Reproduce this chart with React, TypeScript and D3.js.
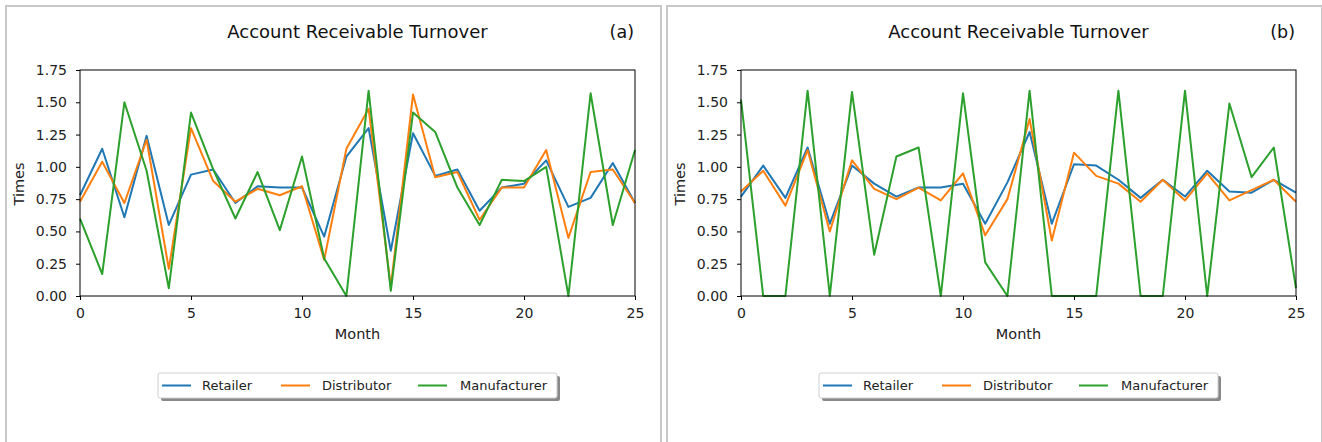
import { useEffect, useRef } from 'react';
import * as d3 from 'd3';

// months 0..25
const months = d3.range(0, 26);

const seriesNames = ['Retailer', 'Distributor', 'Manufacturer'];
const seriesColors = ['#1f77b4', '#ff7f0e', '#2ca02c'];

// panel (a)
const retailerA = [0.78, 1.14, 0.61, 1.24, 0.55, 0.94, 0.98, 0.72, 0.85, 0.84, 0.84, 0.46, 1.08, 1.30, 0.35, 1.26, 0.93, 0.98, 0.66, 0.84, 0.87, 1.05, 0.69, 0.76, 1.03, 0.72];
const distributorA = [0.73, 1.04, 0.72, 1.21, 0.21, 1.30, 0.89, 0.73, 0.83, 0.78, 0.85, 0.28, 1.14, 1.45, 0.07, 1.56, 0.92, 0.96, 0.59, 0.84, 0.84, 1.13, 0.45, 0.96, 0.98, 0.72];
const manufacturerA = [0.60, 0.17, 1.50, 0.97, 0.06, 1.42, 0.98, 0.60, 0.96, 0.51, 1.08, 0.29, 0.00, 1.59, 0.04, 1.42, 1.27, 0.84, 0.55, 0.90, 0.89, 1.00, 0.00, 1.57, 0.55, 1.13];

// panel (b)
const retailerB = [0.77, 1.01, 0.76, 1.15, 0.56, 1.01, 0.87, 0.77, 0.84, 0.84, 0.87, 0.56, 0.88, 1.27, 0.56, 1.02, 1.01, 0.90, 0.76, 0.90, 0.77, 0.97, 0.81, 0.80, 0.90, 0.80];
const distributorB = [0.81, 0.97, 0.70, 1.13, 0.50, 1.05, 0.83, 0.75, 0.84, 0.74, 0.95, 0.47, 0.75, 1.37, 0.43, 1.11, 0.93, 0.87, 0.73, 0.90, 0.74, 0.95, 0.74, 0.82, 0.90, 0.73];
const manufacturerB = [1.52, 0.00, 0.00, 1.59, 0.00, 1.58, 0.32, 1.08, 1.15, 0.00, 1.57, 0.26, 0.00, 1.59, 0.00, 0.00, 0.00, 1.59, 0.00, 0.00, 1.59, 0.00, 1.49, 0.92, 1.15, 0.06];

const xTicks = [0, 5, 10, 15, 20, 25];
const yTicks = [0, 0.25, 0.5, 0.75, 1.0, 1.25, 1.5, 1.75];

const FONT = 'DejaVu Sans, sans-serif';

function Panel({ left, tag, series }) {
  const ref = useRef();

  useEffect(() => {
    const g = d3.select(ref.current);
    g.selectAll('*').remove();

    const plotLeft = 80;
    const plotRight = 635;
    const plotTop = 70;
    const plotBottom = 296;

    const x = d3.scaleLinear().domain([0, 25]).range([plotLeft, plotRight]);
    const y = d3.scaleLinear().domain([0, 1.75]).range([plotBottom, plotTop]);

    // panel frame
    g.append('rect')
      .attr('x', 6)
      .attr('y', 6)
      .attr('width', 655)
      .attr('height', 460)
      .attr('fill', 'white')
      .attr('stroke', '#c8c8c8')
      .attr('stroke-width', 2);

    // title
    g.append('text')
      .attr('x', (plotLeft + plotRight) / 2)
      .attr('y', 38)
      .attr('text-anchor', 'middle')
      .attr('font-size', '18px')
      .attr('fill', '#111')
      .text('Account Receivable Turnover');

    g.append('text')
      .attr('x', plotRight - 1)
      .attr('y', 38)
      .attr('text-anchor', 'end')
      .attr('font-size', '17.5px')
      .attr('fill', '#111')
      .text(tag);

    // lines
    const line = d3.line()
      .x((d, i) => x(months[i]))
      .y(d => y(d));

    series.forEach((vals, i) => {
      g.append('path')
        .datum(vals)
        .attr('d', line)
        .attr('fill', 'none')
        .attr('stroke', seriesColors[i])
        .attr('stroke-width', 2)
        .attr('stroke-linejoin', 'round');
    });

    // axes
    const xAxis = g.append('g')
      .attr('transform', `translate(0,${plotBottom})`)
      .call(d3.axisBottom(x).tickValues(xTicks).tickSize(4).tickPadding(8).tickFormat(d3.format('d')));
    const yAxis = g.append('g')
      .attr('transform', `translate(${plotLeft},0)`)
      .call(d3.axisLeft(y).tickValues(yTicks).tickSize(4).tickPadding(9).tickFormat(d3.format('.2f')));

    [xAxis, yAxis].forEach(ax => {
      ax.select('.domain').remove();
      ax.selectAll('.tick line').attr('stroke', '#000').attr('stroke-width', 1);
      ax.selectAll('text')
        .attr('font-family', FONT)
        .attr('font-size', '14px')
        .attr('fill', '#222');
    });

    g.append('rect')
      .attr('x', plotLeft)
      .attr('y', plotTop)
      .attr('width', plotRight - plotLeft)
      .attr('height', plotBottom - plotTop)
      .attr('fill', 'none')
      .attr('stroke', '#000')
      .attr('stroke-width', 1);

    // axis labels
    g.append('text')
      .attr('x', (plotLeft + plotRight) / 2)
      .attr('y', 339)
      .attr('text-anchor', 'middle')
      .attr('font-size', '14.5px')
      .attr('fill', '#222')
      .text('Month');

    g.append('text')
      .attr('transform', `translate(24,${(plotTop + plotBottom) / 2 + 1}) rotate(-90)`)
      .attr('text-anchor', 'middle')
      .attr('font-size', '14.5px')
      .attr('fill', '#222')
      .text('Times');

    // legend
    const boxW = 399;
    const boxX = (plotLeft + plotRight) / 2 - boxW / 2;
    const boxY = 373;
    const boxH = 25;
    const offsets = [[4, 44], [123, 164], [260, 302]];

    g.append('rect')
      .attr('x', boxX + 3)
      .attr('y', boxY + 3)
      .attr('width', boxW)
      .attr('height', boxH)
      .attr('rx', 2)
      .attr('fill', '#888');
    g.append('rect')
      .attr('x', boxX)
      .attr('y', boxY)
      .attr('width', boxW)
      .attr('height', boxH)
      .attr('rx', 2)
      .attr('fill', 'white')
      .attr('stroke', '#cfcfcf')
      .attr('stroke-width', 1);

    seriesNames.forEach((name, i) => {
      const [hx, tx] = offsets[i];
      g.append('line')
        .attr('x1', boxX + hx)
        .attr('x2', boxX + hx + 29)
        .attr('y1', boxY + boxH / 2)
        .attr('y2', boxY + boxH / 2)
        .attr('stroke', seriesColors[i])
        .attr('stroke-width', 2);
      g.append('text')
        .attr('x', boxX + tx)
        .attr('y', boxY + boxH / 2 + 4.5)
        .attr('font-size', '13px')
        .attr('fill', '#222')
        .text(name);
    });
  }, [series, tag]);

  return <g ref={ref} transform={`translate(${left},0)`} fontFamily={FONT}></g>;
}

export default function App() {
  return (
    <svg width={1322} height={442} style={{ position: 'absolute', left: 0, top: 0, background: 'white' }}>
      <rect width={1322} height={442} fill="white" />
      <Panel left={0} tag="(a)" series={[retailerA, distributorA, manufacturerA]} />
      <Panel left={661} tag="(b)" series={[retailerB, distributorB, manufacturerB]} />
    </svg>
  );
}
